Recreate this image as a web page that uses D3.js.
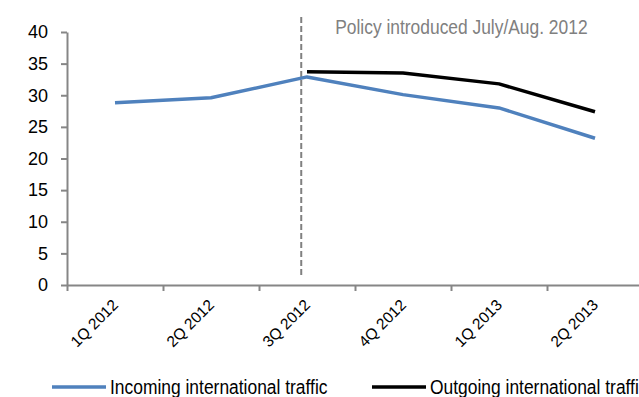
<!DOCTYPE html>
<html>
<head>
<meta charset="utf-8">
<script src="https://cdn.jsdelivr.net/npm/d3@7/dist/d3.min.js"></script>
<style>
  html, body { margin: 0; padding: 0; background: #fff; }
  svg { display: block; font-family: "Liberation Sans", Arial, sans-serif; }
</style>
</head>
<body>
<svg id="chart" width="639" height="397"></svg>
<script>
// Quarterly categories and the two traffic series (null = no data)
const quarters = ["1Q 2012", "2Q 2012", "3Q 2012", "4Q 2012", "1Q 2013", "2Q 2013"];
const incoming = [28.8, 29.6, 32.9, 30.1, 28.0, 23.2];
const outgoing = [null, null, 33.7, 33.5, 31.8, 27.4];
const yTicks = [0, 5, 10, 15, 20, 25, 30, 35, 40];
const seriesNames = ["Incoming international traffic", "Outgoing international traffic"];
const policyLabel = "Policy introduced July/Aug. 2012";
const policyIndex = 1.94; // position of the policy change in quarter-index units

const svg = d3.select("#chart");
const axisColor = "#868686";

const plot = { left: 67, right: 643, top: 32, bottom: 285 };

// Index scale: each quarter occupies one slot, points sit mid-slot
const x = d3.scaleLinear()
  .domain([-0.5, quarters.length - 0.5])
  .range([plot.left, plot.right]);
const y = d3.scaleLinear().domain([0, 40]).range([plot.bottom, plot.top]);

// Y axis
const yAxis = svg.append("g")
  .attr("transform", `translate(${plot.left},0)`)
  .call(d3.axisLeft(y).tickValues(yTicks).tickSize(6).tickPadding(13).tickSizeOuter(0));
yAxis.select(".domain").attr("stroke", axisColor).attr("stroke-width", 2);
yAxis.selectAll(".tick line").attr("stroke", axisColor).attr("stroke-width", 2);
yAxis.selectAll(".tick text")
  .attr("fill", "#000").style("font-size", "18px");

// X axis: ticks at slot boundaries, labels at slot centres
const boundaries = d3.range(quarters.length + 1).map(i => i - 0.5);
const xAxis = svg.append("g")
  .attr("transform", `translate(0,${plot.bottom})`)
  .call(d3.axisBottom(x).tickValues(boundaries).tickSize(6).tickFormat("").tickSizeOuter(0));
xAxis.select(".domain").attr("stroke", axisColor).attr("stroke-width", 2);
xAxis.selectAll(".tick line").attr("stroke", axisColor).attr("stroke-width", 2);

svg.append("g").selectAll("text")
  .data(quarters)
  .join("text")
  .attr("transform", (d, i) => `translate(${x(i) + 4},${plot.bottom + 21}) rotate(-45)`)
  .attr("text-anchor", "end")
  .style("font-size", "15.5px")
  .attr("fill", "#000")
  .text(d => d);

// Policy marker
svg.append("line")
  .attr("x1", x(policyIndex)).attr("x2", x(policyIndex))
  .attr("y1", 17).attr("y2", plot.bottom - 7)
  .attr("stroke", "#808080").attr("stroke-width", 2)
  .attr("stroke-dasharray", "6,3");

svg.append("text")
  .attr("transform", `translate(${x(policyIndex) + 34},34) scale(0.87,1)`)
  .attr("fill", "#808080")
  .style("font-size", "20px")
  .text(policyLabel);

// Series lines
const line = d3.line()
  .defined(d => d != null)
  .x((d, i) => x(i))
  .y(d => y(d));

const series = [
  { values: incoming, color: "#4F81BD" },
  { values: outgoing, color: "#000000" }
];

svg.append("g").selectAll("path")
  .data(series)
  .join("path")
  .attr("d", s => line(s.values))
  .attr("fill", "none")
  .attr("stroke", s => s.color)
  .attr("stroke-width", 3.5)
  .attr("stroke-linejoin", "round");

// Legend
const legendY = 387;
const legendX = [52, 372];
const legend = svg.append("g").selectAll("g")
  .data(series)
  .join("g")
  .attr("transform", (d, i) => `translate(${legendX[i]},${legendY})`);
legend.append("line")
  .attr("x1", 0).attr("x2", 54)
  .attr("stroke", d => d.color).attr("stroke-width", 3.5);
legend.append("text")
  .attr("transform", "translate(58,7) scale(0.83,1)")
  .style("font-size", "21px")
  .attr("fill", "#000")
  .text((d, i) => seriesNames[i]);
</script>
</body>
</html>
